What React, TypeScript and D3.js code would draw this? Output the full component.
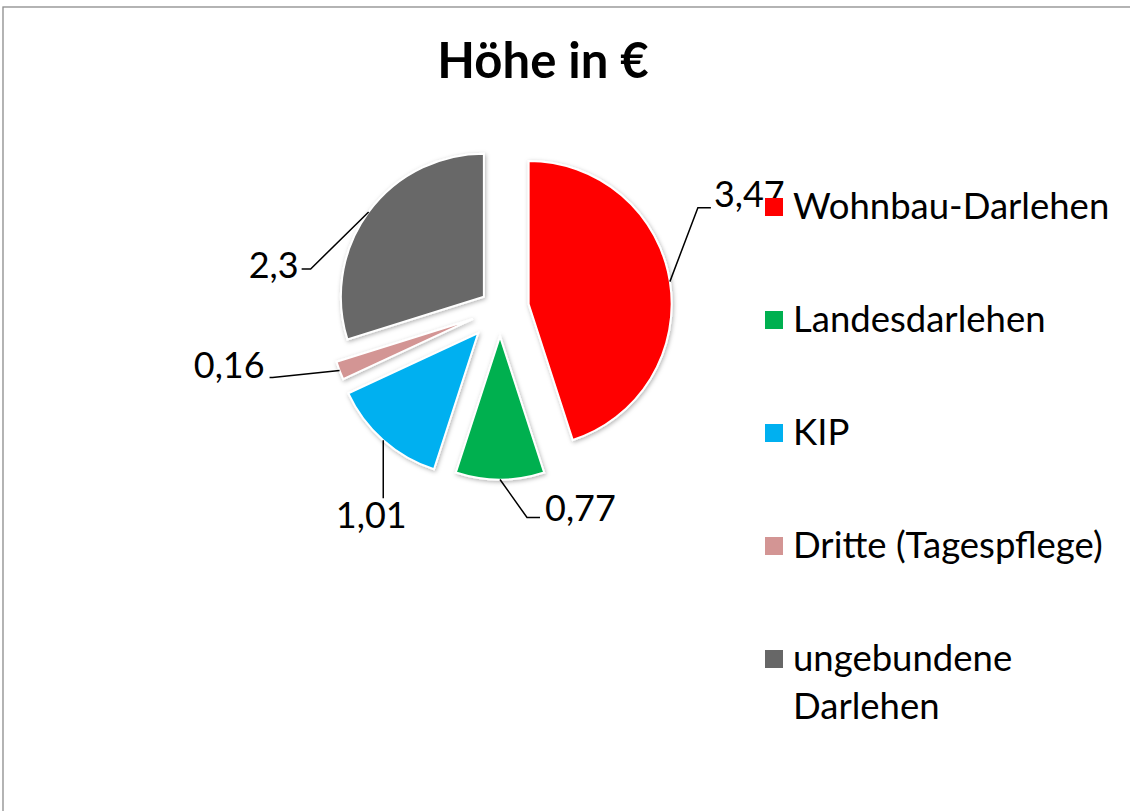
import React from "react";
import * as d3 from "d3";

const categories = [
  "Wohnbau-Darlehen",
  "Landesdarlehen",
  "KIP",
  "Dritte (Tagespflege)",
  "ungebundene Darlehen",
];
const values = [3.47, 0.77, 1.01, 0.16, 2.3];
const valueLabels = ["3,47", "0,77", "1,01", "0,16", "2,3"];
const legendLines = [["Wohnbau-Darlehen"], ["Landesdarlehen"], ["KIP"], ["Dritte (Tagespflege)"], ["ungebundene", "Darlehen"]];
const colors = ["#ff0000", "#00b050", "#00b0f0", "#d39594", "#676767"];

// how far each slice is pulled out of the pie
const explode = [29, 28, 33, 29, 20];
// leader line elbow (relative to the slice's outer edge) and label text offset from the leader end
const leaders = [
  { ex: 28, ey: -74, hx: 13, tx: 3, ty: -1, anchor: "start" },
  { ex: 27, ey: 38, hx: 13, tx: 5, ty: 3, anchor: "start" },
  { ex: 0, ey: 58, hx: 0, tx: -12, ty: 30, anchor: "middle" },
  { ex: -67, ey: 7, hx: -3, tx: -5, ty: 1, anchor: "end" },
  { ex: -58, ey: 57, hx: -9, tx: -3, ty: 9, anchor: "end" },
];

const font = "Lato, 'Open Sans', sans-serif";

export default function App() {
  const width = 1130;
  const height = 811;
  const cx = 500;
  const cy = 308.5;
  const radius = 143;

  const pie = d3
    .pie<number>()
    .sort(null)
    .startAngle(0)
    .endAngle(2 * Math.PI);
  const arcs = pie(values);
  const arc = d3.arc<d3.PieArcDatum<number>>().innerRadius(0).outerRadius(radius);

  const legendY = d3
    .scalePoint<string>()
    .domain(categories)
    .range([207, 659]);

  return (
    <svg
      width={width}
      height={height}
      style={{ position: "fixed", left: 0, top: 0, background: "#fff" }}
    >
      <defs>
        <filter id="shadow" x="-20%" y="-20%" width="140%" height="140%">
          <feDropShadow dx="1" dy="1.5" stdDeviation="2" floodColor="#000" floodOpacity="0.3" />
        </filter>
      </defs>
      <rect x={3} y={7} width={1200} height={900} fill="#fff" stroke="#8c8c8c" strokeWidth={1.3} />

      <text
        x={543}
        y={78}
        textAnchor="middle"
        fontFamily={font}
        fontWeight="bold"
        fontSize={49}
      >
        Höhe in €
      </text>

      {arcs.map((a, i) => {
        const mid = (a.startAngle + a.endAngle) / 2;
        const ox = cx + Math.sin(mid) * explode[i];
        const oy = cy - Math.cos(mid) * explode[i];
        return (
          <g key={categories[i]} transform={`translate(${ox},${oy})`}>
            <path d={arc(a) ?? ""} fill={colors[i]} stroke="#fff" strokeWidth={2} filter="url(#shadow)" />
          </g>
        );
      })}

      {arcs.map((a, i) => {
        const mid = (a.startAngle + a.endAngle) / 2;
        const sx = cx + Math.sin(mid) * (explode[i] + radius);
        const sy = cy - Math.cos(mid) * (explode[i] + radius);
        const l = leaders[i];
        const ex = sx + l.ex;
        const ey = sy + l.ey;
        const hx = ex + l.hx;
        return (
          <g key={"lbl" + i}>
            <polyline
              points={`${sx},${sy} ${ex},${ey} ${hx},${ey}`}
              fill="none"
              stroke="#000"
              strokeWidth={1.5}
            />
            <text
              x={hx + l.tx}
              y={ey + l.ty}
              textAnchor={l.anchor as any}
              fontFamily={font}
              fontSize={36}
            >
              {valueLabels[i]}
            </text>
          </g>
        );
      })}

      {categories.map((c, i) => {
        const y = legendY(c) ?? 0;
        return (
          <g key={"leg" + c}>
            <rect x={765} y={y - 9} width={18} height={18} fill={colors[i]} />
            {legendLines[i].map((line, j) => (
              <text key={line} x={793} y={y + 12 + j * 48} fontFamily={font} fontSize={36.5}>
                {line}
              </text>
            ))}
          </g>
        );
      })}
    </svg>
  );
}
